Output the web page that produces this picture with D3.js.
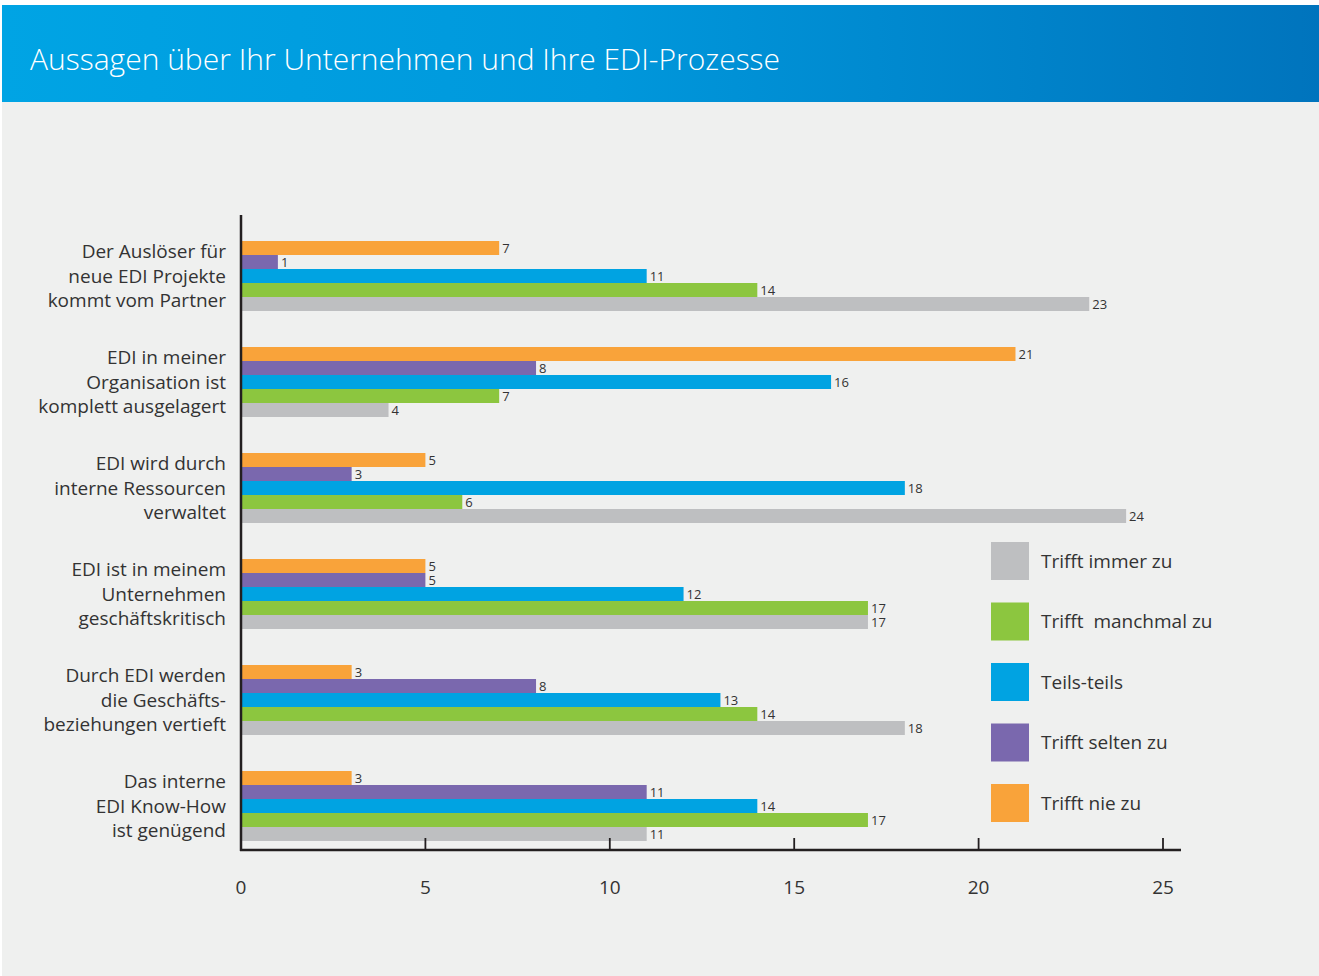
<!DOCTYPE html>
<html>
<head>
<meta charset="utf-8">
<script src="https://cdn.jsdelivr.net/npm/d3@7"></script>
<style>
  body { margin: 0; background: #ffffff; }
  text { font-family: "Open Sans", "Noto Sans", sans-serif; }
</style>
</head>
<body>
<div id="chart"></div>
<script>
// data
var title = "Aussagen über Ihr Unternehmen und Ihre EDI-Prozesse";
var categories = [
  ["Der Auslöser für", "neue EDI Projekte", "kommt vom Partner"],
  ["EDI in meiner", "Organisation ist", "komplett ausgelagert"],
  ["EDI wird durch", "interne Ressourcen", "verwaltet"],
  ["EDI ist in meinem", "Unternehmen", "geschäftskritisch"],
  ["Durch EDI werden", "die Geschäfts-", "beziehungen vertieft"],
  ["Das interne", "EDI Know-How", "ist genügend"]
];
// series in bar order, top to bottom inside each group
var seriesNames = ["Trifft nie zu", "Trifft selten zu", "Teils-teils", "Trifft  manchmal zu", "Trifft immer zu"];
var seriesColors = ["#f9a33a", "#7a68ae", "#00a3e2", "#8cc63f", "#bebfc1"];
var trifftNie      = [7, 21, 5, 5, 3, 3];
var trifftSelten   = [1, 8, 3, 5, 8, 11];
var teilsTeils     = [11, 16, 18, 12, 13, 14];
var trifftManchmal = [14, 7, 6, 17, 14, 17];
var trifftImmer    = [23, 4, 24, 17, 18, 11];
var seriesValues = [trifftNie, trifftSelten, teilsTeils, trifftManchmal, trifftImmer];
var xTicks = [0, 5, 10, 15, 20, 25];

var W = 1319, H = 976;
var svg = d3.select("#chart").append("svg")
  .attr("width", W).attr("height", H);

// background + header
var defs = svg.append("defs");
var grad = defs.append("linearGradient").attr("id", "hdr")
  .attr("x1", "0%").attr("x2", "100%").attr("y1", "0%").attr("y2", "0%");
grad.append("stop").attr("offset", "0%").attr("stop-color", "#00a4e4");
grad.append("stop").attr("offset", "45%").attr("stop-color", "#0098dc");
grad.append("stop").attr("offset", "100%").attr("stop-color", "#0074bd");

svg.append("rect").attr("x", 2).attr("y", 5).attr("width", W - 2).attr("height", H - 5)
  .attr("fill", "#eff0ef");
svg.append("rect").attr("x", 2).attr("y", 5).attr("width", W - 2).attr("height", 97)
  .attr("fill", "url(#hdr)");
svg.append("text").attr("x", 30).attr("y", 70)
  .attr("fill", "#ffffff").attr("font-size", "30px").attr("font-weight", 300)
  .text(title);

// scales
var x = d3.scaleLinear().domain([0, 25]).range([241, 1163]);
var y0 = d3.scaleBand().domain(d3.range(categories.length)).range([215, 851]);
var y1 = d3.scaleBand().domain(d3.range(seriesNames.length)).range([26, 96]);

var g = svg.append("g");

// bars
var groups = g.selectAll(".grp").data(categories).enter().append("g")
  .attr("class", "grp")
  .attr("transform", function(d, i) { return "translate(0," + y0(i) + ")"; });

groups.each(function(cat, ci) {
  var grp = d3.select(this);
  seriesNames.forEach(function(s, si) {
    var v = seriesValues[si][ci];
    grp.append("rect")
      .attr("x", x(0)).attr("y", y1(si))
      .attr("width", x(v) - x(0)).attr("height", y1.bandwidth())
      .attr("fill", seriesColors[si]);
    grp.append("text")
      .attr("x", x(v) + 3).attr("y", y1(si) + y1.bandwidth() / 2)
      .attr("dy", "0.36em")
      .attr("font-size", "13px").attr("fill", "#333")
      .text(v);
  });
  // category label
  var mid = (y1(0) + y1(seriesNames.length - 1) + y1.bandwidth()) / 2;
  var t = grp.append("text").attr("text-anchor", "end")
    .attr("font-size", "19px").attr("fill", "#333");
  cat.forEach(function(line, li) {
    t.append("tspan").attr("x", 226).attr("y", mid + (li - 1) * 24.5)
      .attr("dy", "0.35em").text(line);
  });
});

// axes
var axisY = 850;
g.append("line").attr("x1", 241).attr("x2", 241).attr("y1", 215).attr("y2", axisY + 1)
  .attr("stroke", "#231f20").attr("stroke-width", 2.5);
g.append("line").attr("x1", 240).attr("x2", 1181).attr("y1", axisY).attr("y2", axisY)
  .attr("stroke", "#231f20").attr("stroke-width", 2.5);
g.selectAll(".tick").data(xTicks.slice(1)).enter().append("line")
  .attr("x1", function(d) { return x(d); }).attr("x2", function(d) { return x(d); })
  .attr("y1", axisY - 12).attr("y2", axisY)
  .attr("stroke", "#231f20").attr("stroke-width", 1.8);
g.selectAll(".tl").data(xTicks).enter().append("text")
  .attr("x", function(d) { return x(d); }).attr("y", 887)
  .attr("dy", "0.35em").attr("text-anchor", "middle")
  .attr("font-size", "19px").attr("fill", "#333")
  .text(function(d) { return d; });

// legend (reverse order)
var legendOrder = [4, 3, 2, 1, 0];
var leg = g.selectAll(".leg").data(legendOrder).enter().append("g")
  .attr("transform", function(d, i) { return "translate(991," + (542 + i * 60.5) + ")"; });
leg.append("rect").attr("width", 38).attr("height", 38)
  .attr("fill", function(d) { return seriesColors[d]; });
leg.append("text").attr("x", 50).attr("y", 19).attr("dy", "0.35em")
  .attr("font-size", "19px").attr("fill", "#333")
  .style("white-space", "pre")
  .text(function(d) { return seriesNames[d]; });
</script>
</body>
</html>
